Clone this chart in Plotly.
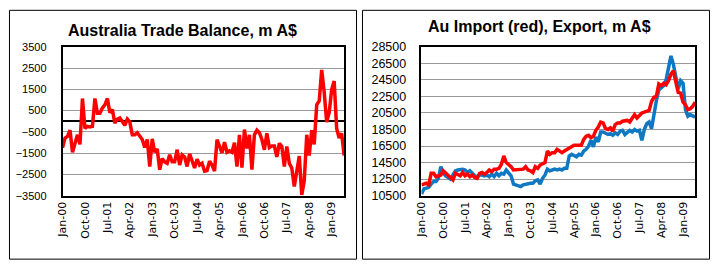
import pandas as pd
import plotly.graph_objects as go

months = pd.date_range("2000-01-01", periods=114, freq="MS")
month_labels = list(months.strftime("%b-%y"))
tick_labels = month_labels[::9]

trade_balance = [
    -1250, -790, -715, -420, -1460, -1010, -640, -1090, 1070, -340,
    -240, -270, -240, 1070, 370, 370, 620, 770, 1070, 400,
    550, -90, 100, 150, -40, -190, 100, -40, -640, -640,
    -540, -715, -860, -1240, -860, -2130, -830, -1460, -1310, -2280,
    -1760, -1910, -1980, -1580, -1910, -1910, -1340, -2060, -1580, -1680,
    -2130, -1530, -1910, -2200, -1790, -2060, -1980, -2350, -2320, -1880,
    -2060, -2350, -860, -1160, -1490, -980, -1460, -1390, -1460, -1010,
    -2130, -640, -2180, -390, -1280, -640, -2280, -640, -420, -540,
    -860, -1340, -570, -1240, -1160, -1160, -1680, -1040, -1190, -2130,
    -1190, -1980, -2200, -3070, -2350, -1640, -3470, -2800, -640, -1610,
    -420, -1090, 770, 950, 2410, 1370, -40, 400, 1490, 1890,
    -340, -790, -570, -1610,
]

imports = [
    11800, 11900, 12000, 11800, 13200, 13200, 12800, 12900, 13000, 13500,
    13200, 12900, 12600, 12400, 13200, 13100, 12900, 13300, 12900, 13100,
    12800, 13000, 12700, 12600, 13200, 13300, 13100, 13300, 13600, 13400,
    13700, 13700, 13800, 14300, 15300, 14500, 14300, 14000, 13600, 13600,
    13700, 13600, 13700, 14000, 13600, 13500, 13300, 14000, 13800, 14200,
    14400, 14500, 15900, 15500, 15700, 15700, 16100, 15900, 15700, 15900,
    16100, 16300, 16500, 16600, 16600, 16600, 16600, 17300, 17700, 17800,
    17500, 17700, 18400, 18800, 19400, 19300, 18600, 18500, 18700, 18300,
    19100, 19300, 19300, 19500, 19500, 19600, 19400, 19900, 20300, 19900,
    20200, 20500, 20600, 20700, 20800, 21900, 22400, 22500, 24000, 23800,
    24100, 23900, 24400, 25200, 25600, 24300, 23000, 22900, 21800, 21500,
    20900, 21000, 21300, 21800,
]

exports = [
    10700, 11300, 11400, 11500, 11900, 12200, 12200, 12600, 14000, 13200,
    12900, 12700, 12500, 13000, 13500, 13600, 13700, 13700, 13600, 13300,
    13500, 13200, 12900, 12800, 13000, 13000, 12900, 13000, 12800, 13100,
    12800, 13200, 12900, 13200, 13100, 13600, 13300, 12900, 11900, 11800,
    11800, 11600, 11800, 11900, 11900, 12000, 12000, 12300, 12400, 11900,
    12600, 13000, 13700, 13500, 13600, 13700, 13600, 13700, 13600, 13800,
    13800, 15300, 15500, 15300, 15200, 15500, 15400, 15900, 16100, 16500,
    17200, 16400, 17600, 17000, 18200, 18200, 18000, 17900, 18000, 17800,
    18100, 17900, 18300, 18400, 17900, 18200, 18400, 18200, 18500, 18300,
    18400, 17200, 18500, 19200, 19400, 18600, 20500, 22000, 23300, 23600,
    23800, 24500, 25900, 27400, 26400, 24600, 23400, 24400, 24100, 20900,
    20100, 20300, 20200, 20000,
]

left_title = "Australia Trade Balance, m A$"
right_title = "Au Import (red), Export, m A$"

W, H = 712, 269
def px(x):
    return x / W
def py(y):
    return 1 - y / H

fig = go.Figure()
fig.add_trace(go.Scatter(x=month_labels, y=trade_balance, mode="lines",
                         line=dict(color="#FF0000", width=3.5), xaxis="x", yaxis="y"))
fig.add_trace(go.Scatter(x=month_labels, y=exports, mode="lines",
                         line=dict(color="#0F78C2", width=3.5), xaxis="x2", yaxis="y2"))
fig.add_trace(go.Scatter(x=month_labels, y=imports, mode="lines",
                         line=dict(color="#FF0000", width=3.5), xaxis="x2", yaxis="y2"))

xcommon = dict(type="category", range=[0, len(month_labels) - 1], tickmode="array",
               tickvals=tick_labels, ticktext=tick_labels, tickangle=-90,
               tickfont=dict(family="DejaVu Sans", size=11, color="#000"),
               showgrid=False, showline=True, mirror=True, linecolor="black",
               linewidth=1.5, ticks="", zeroline=False)

fig.update_layout(
    width=W, height=H, margin=dict(l=0, r=0, t=0, b=0),
    paper_bgcolor="white", plot_bgcolor="white", showlegend=False,
    xaxis=dict(domain=[px(57), px(341)], anchor="y", **xcommon),
    xaxis2=dict(domain=[px(419), px(695)], anchor="y2", **xcommon),
    yaxis=dict(domain=[py(199), py(42)], anchor="x", range=[-3500, 3500],
               tick0=-3500, dtick=1000, showgrid=True, gridcolor="#999999",
               gridwidth=1, zeroline=True, zerolinecolor="black", zerolinewidth=1.5,
               showline=True, mirror=True, linecolor="black", linewidth=1.5,
               ticks="", ticklabelstandoff=12, tickformat="d",
               tickfont=dict(family="Liberation Sans", size=11, color="#000")),
    yaxis2=dict(domain=[py(199), py(42)], anchor="x2", range=[10500, 28500],
                tick0=10500, dtick=2000, showgrid=True, gridcolor="#999999",
                gridwidth=1, zeroline=False,
                showline=True, mirror=True, linecolor="black", linewidth=1.5,
                ticks="", ticklabelstandoff=11, tickformat="d",
                tickfont=dict(family="Liberation Sans", size=12.5, color="#000")),
    annotations=[
        dict(text="<b>" + left_title + "</b>", x=px(178), y=py(25), xref="paper", yref="paper",
             showarrow=False, xanchor="center", yanchor="middle",
             font=dict(family="Liberation Sans", size=16, color="#000")),
        dict(text="<b>" + right_title + "</b>", x=px(538), y=py(21), xref="paper", yref="paper",
             showarrow=False, xanchor="center", yanchor="middle",
             font=dict(family="Liberation Sans", size=16, color="#000")),
    ],
    shapes=[
        dict(type="rect", xref="paper", yref="paper", x0=px(3.5), x1=px(353.5),
             y0=py(266), y1=py(3.5), line=dict(color="black", width=1)),
        dict(type="rect", xref="paper", yref="paper", x0=px(359.5), x1=px(709.5),
             y0=py(266), y1=py(3.5), line=dict(color="black", width=1)),
    ],
)

fig.write_html("out.html")
